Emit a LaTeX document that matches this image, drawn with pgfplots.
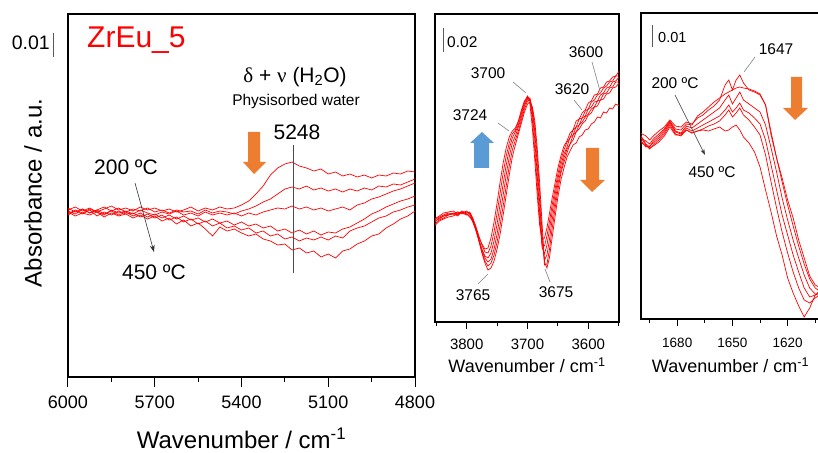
\documentclass[border=0pt]{standalone}
\usepackage{fontspec}
\setmainfont{Liberation Sans}
\newfontfamily\grk{Liberation Serif}
\usepackage{pgfplots}
\pgfplotsset{compat=1.18}
\usepackage{pgfplotstable}
\usetikzlibrary{arrows.meta}
\definecolor{arrorange}{HTML}{ED7D31}
\definecolor{arrblue}{HTML}{5B9BD5}
\newcommand{\fs}[1]{\fontsize{#1}{#1}\selectfont}

% left panel: wavenumber vs absorbance (arb. units, larger = lower)
\pgfplotstableread{
wn c0 c1 c2 c3 c4 c5
6000 210 208 214 211 215 212
5975 207 212 210 214 211 216
5950 211 209 213 209 214 213
5925 208 213 209 213 210 215
5900 212 210 212 210 216 212
5875 209 207 215 214 212 217
5850 206 211 210 211 215 213
5825 210 208 213 215 211 216
5800 208 212 211 212 214 214
5775 211 209 214 216 213 218
5750 207 211 210 213 217 215
5725 210 208 213 217 214 219
5700 208 212 215 214 218 216
5675 211 210 212 218 215 221
5650 209 213 214 215 220 218
5625 212 210 211 219 217 224
5600 210 212 215 216 222 220
5575 207 211 213 220 219 226
5550 211 214 216 218 224 223
5525 208 210 212 222 221 229
5500 210 213 215 219 226 236
5475 207 211 213 223 223 227
5450 209 212 215 221 228 231
5425 208 214 213 225 226 229
5400 205 211 216 222 230 233
5375 201 209 213 226 228 236
5350 194 206 215 224 233 234
5325 186 202 212 228 231 239
5300 175 199 210 226 236 241
5275 168 194 208 231 234 245
5250 164 189 209 229 239 244
5225 162 187 206 233 237 250
5200 166 189 209 230 241 248
5175 168 186 207 234 238 253
5150 171 190 210 231 240 251
5125 169 188 208 235 237 257
5100 174 191 211 232 240 254
5075 172 189 209 233 236 258
5050 176 192 207 229 238 251
5025 174 189 210 227 231 249
5000 177 191 205 223 228 244
4975 175 188 203 219 226 241
4950 178 190 199 214 222 236
4925 175 186 197 211 218 234
4900 176 187 194 207 216 228
4875 173 184 191 204 212 224
4850 174 185 189 201 210 219
4825 171 182 186 199 207 216
4800 172 179 183 196 205 211
}\leftdata

\pgfplotstableread{
wn c0 c1 c2 c3 c4 c5
3853 222 219 224 220 226 221
3845 218 216 220 217 221 219
3838 216 213 218 215 219 216
3830 214 212 215 213 217 215
3822 215 211 213 214 216 213
3815 212 214 215 212 214 216
3808 213 211 212 214 213 212
3800 211 213 214 212 215 214
3795 214 212 216 214 213 217
3790 220 218 222 219 221 220
3785 228 226 230 228 230 229
3780 237 236 240 239 241 240
3775 244 245 249 250 252 253
3770 249 252 256 258 261 263
3765 248 253 258 262 266 270
3760 238 246 253 259 263 268
3755 222 232 241 249 255 261
3750 203 213 224 234 242 249
3745 182 193 204 215 225 234
3740 163 173 184 195 206 215
3735 148 156 165 175 186 195
3730 137 143 149 157 166 175
3725 131 134 138 143 150 157
3720 128 130 132 136 140 145
3715 121 122 125 127 131 134
3710 110 112 114 117 120 123
3705 101 102 104 106 109 112
3700 97 96 98 99 101 104
3696 104 100 99 98 100 102
3692 128 120 114 110 108 107
3688 160 150 140 132 126 121
3684 195 185 175 165 156 148
3680 225 220 212 202 192 183
3676 240 245 247 242 233 224
3672 238 246 254 260 265 262
3668 228 236 245 255 264 268
3664 214 222 230 240 250 258
3660 200 207 214 222 231 240
3655 184 190 196 203 210 218
3650 168 174 179 184 190 197
3645 156 160 165 170 173 180
3640 146 150 154 158 162 168
3635 141 142 147 149 153 157
3630 133 138 137 144 144 151
3625 130 130 135 135 140 145
3620 121 127 127 132 132 143
3615 119 119 125 125 129 137
3610 113 118 118 122 124 135
3605 110 111 116 117 121 130
3600 103 109 109 114 115 129
3595 101 102 107 109 113 124
3590 95 100 102 107 107 122
3585 94 95 101 101 106 117
3580 88 93 95 100 100 118
3575 87 88 93 94 99 112
3570 82 86 88 93 94 113
3565 81 82 87 88 93 108
3560 77 81 82 87 88 109
3555 76 76 81 82 87 104
3549 71 76 77 82 83 106
}\middata

\pgfplotstableread{
wn c0 c1 c2 c3 c4 c5
1700 133 138 135 140 137 142
1697 136 141 144 147 145 146
1695 140 144 147 146 149 148
1693 136 139 141 143 145 146
1690 131 134 136 138 140 142
1687 127 129 130 132 134 136
1684 120 121 122 123 125 127
1681 126 129 131 132 134 135
1678 127 130 133 134 136 135
1675 122 124 126 128 130 130
1672 124 125 128 131 133 133
1669 118 116 124 128 131 131
1666 115 112 120 125 129 130
1663 110 107 116 122 126 131
1660 106 102 112 119 124 129
1657 100 98 108 116 121 127
1654 85 94 100 110 115 131
1652 80 92 95 105 110 130
1650 90 90 104 112 117 127
1648 80 88 98 108 113 125
1646 75 87 92 103 108 130
1644 83 88 100 110 115 137
1641 90 89 104 113 120 143
1638 92 91 108 118 127 152
1635 95 94 112 124 135 167
1632 105 105 125 140 155 190
1629 135 132 148 165 182 212
1626 158 158 172 190 208 236
1623 178 182 198 215 232 255
1620 200 205 220 235 253 278
1617 218 226 240 255 272 293
1614 240 246 258 272 288 306
1611 258 264 275 288 300 317
1608 276 279 288 297 303 308
1605 285 288 294 295 298 295
1602 288 292 296 292 294 290
}\rightdata

\pgfplotsset{
  panel/.style={
    scale only axis, anchor=center,
    x dir=reverse, y dir=reverse,
    ytick=\empty, xtick pos=left, tick align=outside,
    axis line style={line width=1.1pt},
    tick style={black, line width=1pt},
    /pgf/number format/assume math mode=true,
    /pgf/number format/1000 sep={},
  },
  spec/.style={red, solid, line width=0.7pt, mark=none},
}

\begin{document}
\begin{tikzpicture}
\path[use as bounding box] (0,0) rectangle (818pt,452pt);

% ---------------- left panel
\begin{axis}[panel, at={(241.5pt,256.5pt)},
  width=347pt, height=363pt,
  xmin=4800, xmax=6000, ymin=14, ymax=377,
  xtick={4800,5100,5400,5700,6000}, minor x tick num=1,
  major tick length=10pt, minor tick length=5pt,
  axis line style={line width=1.4pt},
  xticklabel style={font=\fs{18}, yshift=-5pt},
  xlabel={Wavenumber / cm\textsuperscript{-1}},
  xlabel style={font=\fs{24}, at={(axis description cs:0.5,-0.168)}, anchor=center},
  ylabel={Absorbance / a.u.},
  ylabel style={font=\fs{24}, at={(axis description cs:-0.1009,0.507)}, anchor=center},
]
\foreach \c in {c0,c1,c2,c3,c4,c5}{
  \addplot[spec] table[x=wn, y=\c] {\leftdata};
}
\end{axis}

% ---------------- middle panel
\begin{axis}[panel, at={(527pt,284pt)},
  width=184pt, height=308pt,
  xmin=3549.5, xmax=3852.1, ymin=14, ymax=322,
  xtick={3600,3700,3800}, minor xtick={3550,3650,3750,3850},
  major tick length=7pt, minor tick length=4pt,
  xticklabel style={font=\fs{15}, yshift=-6pt},
  xlabel={Wavenumber / cm\textsuperscript{-1}},
  xlabel style={font=\fs{18}, at={(axis description cs:0.5,-0.1396)}, anchor=center},
]
\foreach \c in {c0,c1,c2,c3,c4,c5}{
  \addplot[spec] table[x=wn, y=\c] {\middata};
}
\end{axis}

% ---------------- right panel
\begin{axis}[panel, at={(730.5pt,286pt)},
  width=179pt, height=306pt,
  xmin=1602.4, xmax=1699.7, ymin=13, ymax=319,
  xtick={1620,1650,1680}, minor xtick={1605,1635,1665,1695},
  major tick length=7pt, minor tick length=4pt,
  xticklabel style={font=\fs{13.5}, yshift=-9pt},
  xlabel={Wavenumber / cm\textsuperscript{-1}},
  xlabel style={font=\fs{18}, at={(axis description cs:0.5,-0.150)}, anchor=center},
]
\foreach \c in {c0,c1,c2,c3,c4,c5}{
  \addplot[spec] table[x=wn, y=\c] {\rightdata};
}
\end{axis}

% ---------------- annotations (image pixel frame)
\begin{scope}[shift={(0pt,452pt)}, x=1pt, y=-1pt]
  % left
  \node[anchor=west, text=red, font=\fs{30}, inner sep=0] at (87,40) {ZrEu\_5};
  \node[anchor=east, font=\fs{19.5}, inner sep=0] at (50,43) {0.01};
  \draw[black!65, line width=0.8pt] (53,33) -- (53,57);
  \node[font=\fs{21}, inner sep=0] at (295,77) {{\grk δ} + {\grk ν} (H\textsubscript{2}O)};
  \node[font=\fs{15.5}, inner sep=0] at (296,101) {Physisorbed water};
  \node[font=\fs{21}, inner sep=0] at (297,132) {5248};
  \draw[black!70, line width=1pt] (293,145) -- (293,273);
  \node[font=\fs{21}, inner sep=0] at (126,167) {200 ºC};
  \node[font=\fs{21}, inner sep=0] at (154,272) {450 ºC};
  \draw[-{Stealth[length=7pt,width=5pt]}, line width=0.6pt, black!80] (135,183) -- (154,252);
  \fill[arrorange] (248,132) -- (260,132) -- (260,162) -- (266,162) -- (254,174) -- (243,162) -- (248,162) -- cycle;
  % middle
  \draw[black!65, line width=0.8pt] (443,28) -- (443,52);
  \node[anchor=west, font=\fs{15.5}, inner sep=0] at (447,42) {0.02};
  \node[font=\fs{15.5}, inner sep=0] at (488,73) {3700};
  \draw[gray, line width=0.6pt] (513,82) -- (526,93);
  \node[font=\fs{15.5}, inner sep=0] at (470,115) {3724};
  \draw[gray, line width=0.6pt] (498,123) -- (509,131);
  \node[font=\fs{15.5}, inner sep=0] at (572,89) {3620};
  \draw[gray, line width=0.6pt] (574,100) -- (582,110);
  \node[font=\fs{15.5}, inner sep=0] at (586,52) {3600};
  \draw[gray, line width=0.6pt] (592,62) -- (600,91);
  \node[font=\fs{15.5}, inner sep=0] at (473,295) {3765};
  \draw[gray, line width=0.6pt] (478,284) -- (488,274);
  \node[font=\fs{15.5}, inner sep=0] at (556,292) {3675};
  \draw[gray, line width=0.6pt] (550,282) -- (545,269);
  \fill[arrblue] (474,168) -- (489,168) -- (489,143) -- (494,143) -- (482,132) -- (470,143) -- (474,143) -- cycle;
  \fill[arrorange] (586,148) -- (599,148) -- (599,180) -- (605,180) -- (592,192) -- (580,180) -- (586,180) -- cycle;
  % right
  \draw[black!65, line width=0.8pt] (652,25) -- (652,47);
  \node[anchor=west, font=\fs{14.5}, inner sep=0] at (658,38) {0.01};
  \node[font=\fs{15.5}, inner sep=0] at (776,49) {1647};
  \draw[gray, line width=0.6pt] (755,57) -- (744,72);
  \node[font=\fs{15.5}, inner sep=0] at (675,83) {200 ºC};
  \node[font=\fs{15.5}, inner sep=0] at (712,172) {450 ºC};
  \draw[-{Stealth[length=6pt,width=4pt]}, line width=0.5pt, black!80] (675,95) -- (705,155);
  \fill[arrorange] (791,77) -- (802,77) -- (802,108) -- (808,108) -- (795,120) -- (783,108) -- (791,108) -- cycle;
\end{scope}
\end{tikzpicture}
\end{document}
